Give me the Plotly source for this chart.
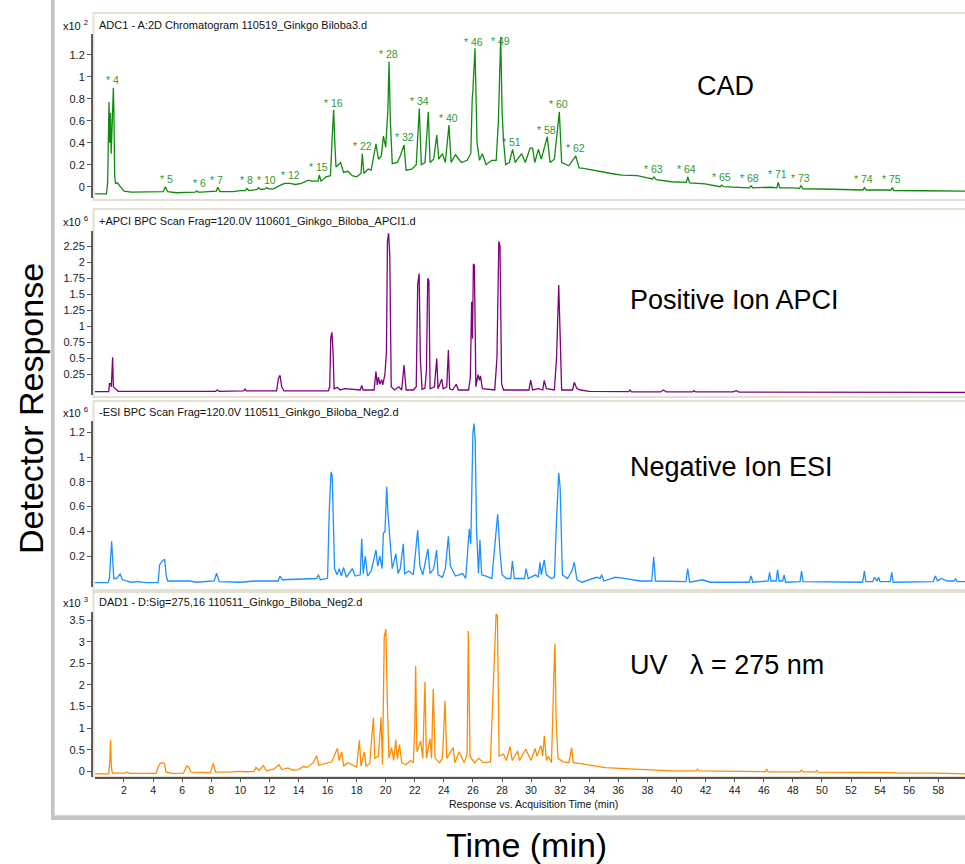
import plotly.graph_objects as go

# ---------------- DATA ----------------
# CAD trace  (response x10^2)
cad_t = [0.00, 0.80, 0.88, 0.92, 0.97, 1.02, 1.07, 1.12, 1.20, 1.27, 1.31, 1.36, 1.42, 1.55, 1.75, 2.0, 2.5, 3.5,
         4.3, 4.7, 4.85, 5.0, 5.6, 6.5, 6.9, 7.0, 7.1, 7.3, 8.2, 8.35, 8.45, 8.6, 9.5, 10.0, 10.35, 10.45, 10.6,
         11.15, 11.25, 11.4, 11.7, 11.8, 11.95, 12.3, 12.7, 13.05, 13.4, 13.8, 14.2, 14.68, 14.9, 15.35, 15.43,
         15.55, 15.9, 16.2, 16.32, 16.42, 16.5, 16.58, 16.75, 16.9, 17.1, 17.4, 17.7, 18.0, 18.3, 18.39, 18.5,
         18.8, 19.0, 19.33, 19.5, 19.7, 19.84, 20.0, 20.15, 20.23, 20.32, 20.45, 20.8, 21.0, 21.26, 21.4, 21.8,
         22.1, 22.31, 22.45, 22.7, 22.93, 23.05, 23.3, 23.51, 23.65, 23.9, 24.1, 24.35, 24.5, 24.8, 25.2, 25.6,
         25.85, 25.95, 26.0, 26.14, 26.28, 26.45, 26.65, 26.9, 27.3, 27.6, 27.75, 27.91, 28.0, 28.1, 28.25, 28.5,
         28.73, 28.9, 29.35, 29.6, 29.93, 30.1, 30.25, 30.5, 30.7, 31.11, 31.3, 31.6, 31.94, 32.1, 32.6, 33.07,
         33.3, 33.6, 34.2, 34.85, 35.5, 36.23, 37.3, 38.0, 38.35, 38.45, 38.6, 39.66, 40.5, 40.68, 40.77, 40.9,
         41.96, 42.6, 43.0, 43.1, 43.25, 44.25, 45.02, 45.12, 45.25, 46.5, 46.9, 46.99, 47.1, 48.0, 48.46, 48.56,
         48.7, 49.98, 52.0, 52.82, 52.92, 53.05, 54.5, 54.74, 54.84, 54.95, 57.0, 59.84]
cad_v = [-0.066, -0.066, 0.05, 0.35, 0.77, 0.40, 0.67, 0.30, 0.75, 0.90, 0.66, 0.10, 0.03, 0.035, 0.00, -0.04, -0.05,
         -0.05, -0.05, -0.045, 0.00, -0.045, -0.055, -0.05, -0.05, -0.038, -0.05, -0.05, -0.045, -0.04, -0.005,
         -0.045, -0.045, -0.035, -0.035, -0.017, -0.035, -0.025, -0.008, -0.025, -0.02, -0.008, -0.02, -0.02,
         0.01, 0.03, 0.03, 0.02, 0.03, 0.06, 0.05, 0.05, 0.106, 0.05, 0.09, 0.10, 0.45, 0.70, 0.40, 0.18, 0.20,
         0.22, 0.13, 0.14, 0.10, 0.09, 0.12, 0.30, 0.12, 0.16, 0.15, 0.39, 0.25, 0.28, 0.46, 0.36, 0.70, 1.136,
         0.60, 0.21, 0.22, 0.28, 0.38, 0.15, 0.16, 0.20, 0.71, 0.20, 0.22, 0.68, 0.22, 0.25, 0.47, 0.25, 0.30,
         0.22, 0.56, 0.22, 0.29, 0.22, 0.24, 0.30, 0.80, 0.88, 1.258, 0.40, 0.24, 0.30, 0.20, 0.24, 0.24, 0.60,
         1.36, 0.70, 0.42, 0.20, 0.22, 0.34, 0.22, 0.30, 0.22, 0.35, 0.35, 0.22, 0.34, 0.25, 0.455, 0.22, 0.25,
         0.68, 0.22, 0.19, 0.28, 0.17, 0.167, 0.15, 0.135, 0.12, 0.106, 0.10, 0.08, 0.07, 0.09, 0.065, 0.045,
         0.04, 0.04, 0.09, 0.035, 0.025, 0.01, 0.0, 0.015, 0.0, -0.006, -0.01, 0.009, -0.01, -0.005, -0.01,
         0.04, -0.01, -0.01, -0.015, 0.009, -0.02, -0.021, -0.025, -0.03, -0.009, -0.03, -0.03, -0.032, -0.009,
         -0.035, -0.037, -0.04]

# CAD peak labels (label centre positions)
cad_label_text = ["* 4", "* 5", "* 6", "* 7", "* 8", "* 10", "* 12", "* 15", "* 16", "* 22", "* 28", "* 32",
                  "* 34", "* 40", "* 46", "* 49", "* 51", "* 58", "* 60", "* 62", "* 63", "* 64", "* 65",
                  "* 68", "* 71", "* 73", "* 74", "* 75"]
cad_label_t = [1.22, 4.94, 7.16, 8.38, 10.44, 11.82, 13.47, 15.37, 16.40, 18.39, 20.18, 21.26, 22.29, 24.31,
               26.07, 27.86, 28.66, 31.07, 31.87, 33.02, 38.41, 40.70, 43.06, 45.05, 46.96, 48.56, 52.85, 54.80]
cad_label_v = [0.97, 0.073, 0.031, 0.061, 0.058, 0.064, 0.106, 0.176, 0.764, 0.373, 1.203, 0.452, 0.782, 0.627,
               1.318, 1.327, 0.403, 0.52, 0.749, 0.349, 0.158, 0.158, 0.091, 0.082, 0.115, 0.082, 0.067, 0.067]

# Positive ion APCI BPC (x10^6)
apci_t = [0.00, 0.95, 1.0, 1.08, 1.13, 1.18, 1.22, 1.27, 1.33, 1.45, 1.6, 8.3, 8.42, 8.55, 10.23, 10.33, 10.43,
          12.5, 12.62, 12.73, 12.85, 13.0, 16.05, 16.15, 16.22, 16.3, 16.38, 16.45, 16.7, 16.85, 17.2, 18.25,
          18.35, 18.45, 19.2, 19.33, 19.42, 19.5, 19.6, 19.72, 19.8, 19.95, 20.05, 20.12, 20.2, 20.28, 20.38,
          20.6, 20.9, 21.1, 21.26, 21.4, 21.9, 22.1, 22.2, 22.3, 22.38, 22.5, 22.7, 22.8, 22.89, 22.97, 23.05,
          23.35, 23.51, 23.6, 23.85, 23.95, 24.2, 24.31, 24.4, 24.6, 24.85, 25.0, 25.7, 25.82, 25.91, 25.97,
          26.03, 26.1, 26.2, 26.35, 26.45, 26.52, 26.65, 27.5, 27.65, 27.78, 27.86, 27.97, 28.1, 28.9, 29.3,
          29.85, 29.97, 30.1, 30.5, 30.8, 30.9, 31.05, 31.6, 31.75, 31.9, 31.98, 32.1, 32.7, 32.85, 32.97, 33.15,
          33.4, 34.0, 36.7, 36.8, 36.9, 38.9, 39.1, 39.3, 41.1, 41.2, 41.3, 43.9, 44.1, 44.3, 59.84]
apci_v = [-0.026, -0.026, 0.10, 0.10, 0.05, 0.40, 0.51, 0.05, 0.03, 0.01, -0.02, -0.02, 0.0, -0.02, -0.015, 0.015,
          -0.015, -0.015, 0.18, 0.23, 0.05, -0.015, -0.015, 0.05, 0.81, 0.90, 0.60, 0.02, 0.04, 0.00, 0.02, 0.0,
          0.07, 0.0, 0.0, 0.29, 0.08, 0.20, 0.09, 0.16, 0.08, 0.25, 0.6, 2.32, 2.45, 2.10, 0.05, 0.00, 0.05,
          0.00, 0.39, 0.00, 0.00, 0.05, 1.65, 1.82, 0.50, 0.01, 0.03, 0.30, 1.745, 1.70, 0.02, 0.05, 0.49, 0.02,
          0.17, 0.02, 0.05, 0.625, 0.02, 0.00, 0.09, 0.00, 0.00, 0.20, 1.38, 0.8, 1.97, 1.95, 0.05, 0.24, 0.15,
          0.22, 0.02, 0.00, 0.5, 2.32, 2.25, 0.10, 0.00, 0.00, 0.00, 0.0, 0.156, 0.00, 0.02, 0.0, 0.15, 0.02,
          0.00, 0.5, 1.64, 1.0, 0.00, 0.00, 0.0, 0.12, 0.02, 0.0, -0.02, -0.025, 0.0, -0.03, -0.03, 0.0, -0.03,
          -0.03, -0.01, -0.03, -0.03, -0.01, -0.033, -0.036]

# Negative ion ESI BPC (x10^6)
esi_t = [0.0, 0.9, 1.0, 1.08, 1.15, 1.22, 1.3, 1.5, 1.73, 1.9, 2.5, 3.0, 3.5, 4.35, 4.45, 4.62, 4.8, 4.9, 5.0, 5.4,
         6.5, 7.0, 8.2, 8.37, 8.55, 10.0, 11.0, 12.6, 12.73, 12.9, 14.0, 14.8, 15.25, 15.37, 15.5, 16.0, 16.12,
         16.24, 16.32, 16.38, 16.48, 16.65, 16.8, 16.95, 17.1, 17.3, 17.7, 17.9, 18.25, 18.35, 18.45, 18.6,
         18.75, 19.0, 19.33, 19.45, 19.6, 19.75, 19.84, 19.95, 20.07, 20.15, 20.3, 20.45, 20.7, 20.85, 21.0,
         21.21, 21.3, 21.6, 21.9, 22.13, 22.2, 22.35, 22.55, 22.9, 23.05, 23.3, 23.5, 23.6, 23.9, 24.1, 24.31,
         24.45, 24.8, 25.3, 25.5, 25.75, 25.85, 26.0, 26.07, 26.15, 26.25, 26.38, 26.48, 26.6, 26.9, 27.3, 27.6,
         27.7, 27.85, 28.0, 28.3, 28.6, 28.71, 28.85, 29.2, 29.55, 29.65, 29.8, 30.3, 30.5, 30.61, 30.7, 30.9,
         31.05, 31.4, 31.6, 31.75, 31.9, 32.0, 32.15, 32.5, 32.8, 32.97, 33.15, 33.5, 34.0, 34.5, 34.75, 34.85,
         35.0, 35.8, 36.5, 37.5, 38.3, 38.43, 38.55, 40.65, 40.77, 40.9, 41.8, 42.3, 45.0, 45.13, 45.25, 46.3,
         46.4, 46.5, 46.85, 46.95, 47.05, 47.3, 47.4, 47.5, 48.5, 48.6, 48.7, 52.8, 52.92, 53.02, 53.5, 53.6,
         53.8, 53.9, 54.0, 54.7, 54.8, 54.9, 57.65, 57.8, 57.95, 58.2, 58.6, 59.1, 59.2, 59.3, 59.84]
esi_v = [-0.013, -0.013, 0.02, 0.20, 0.32, 0.18, 0.02, 0.02, 0.056, 0.01, -0.01, -0.005, -0.013, -0.013, 0.13,
         0.16, 0.175, 0.05, 0.0, 0.0, 0.0, -0.01, 0.0, 0.062, -0.005, -0.01, 0.0, 0.0, 0.04, 0.01, 0.015, 0.02,
         0.02, 0.05, 0.01, 0.02, 0.57, 0.88, 0.85, 0.57, 0.10, 0.05, 0.10, 0.04, 0.11, 0.03, 0.10, 0.04, 0.05,
         0.34, 0.06, 0.20, 0.04, 0.08, 0.25, 0.12, 0.20, 0.10, 0.385, 0.40, 0.76, 0.55, 0.35, 0.10, 0.22, 0.06,
         0.10, 0.30, 0.06, 0.08, 0.05, 0.33, 0.41, 0.12, 0.05, 0.26, 0.06, 0.10, 0.25, 0.05, 0.03, 0.10, 0.36,
         0.12, 0.04, 0.06, 0.02, 0.42, 0.30, 1.20, 1.27, 1.15, 0.40, 0.06, 0.33, 0.05, 0.04, 0.02, 0.40, 0.54,
         0.25, 0.05, 0.02, 0.02, 0.16, 0.02, 0.02, 0.02, 0.10, 0.02, 0.05, 0.03, 0.15, 0.05, 0.17, 0.05, 0.02,
         0.03, 0.50, 0.87, 0.75, 0.05, 0.02, 0.08, 0.15, 0.01, -0.01, 0.01, 0.03, 0.02, 0.05, 0.0, 0.03, 0.02,
         0.0, 0.0, 0.196, 0.0, -0.005, 0.10, -0.01, 0.01, -0.01, -0.01, 0.04, -0.01, 0.0, 0.07, 0.0, 0.0, 0.09,
         0.0, 0.0, 0.05, -0.01, -0.005, 0.08, -0.005, -0.01, 0.08, -0.005, -0.005, 0.03, 0.0, 0.03, -0.005,
         -0.005, 0.07, -0.01, -0.005, 0.04, 0.0, 0.02, 0.0, 0.0, 0.02, -0.005, -0.005]

# UV 275 nm (x10^3)
uv_t = [0.0, 0.95, 1.02, 1.08, 1.13, 1.2, 2.1, 2.23, 2.4, 4.2, 4.35, 4.48, 4.65, 4.78, 4.9, 5.3, 6.1, 6.31, 6.45,
        6.6, 7.95, 8.14, 8.3, 9.2, 10.0, 10.4, 10.95, 11.08, 11.3, 11.58, 11.8, 12.3, 12.66, 12.85, 13.26, 13.6,
        14.0, 14.34, 14.6, 15.02, 15.25, 15.4, 15.8, 16.3, 16.67, 16.8, 16.97, 17.1, 17.4, 17.7, 18.0, 18.19,
        18.3, 18.53, 18.65, 18.9, 19.15, 19.25, 19.5, 19.68, 19.78, 19.9, 20.01, 20.12, 20.22, 20.4, 20.55,
        20.69, 20.8, 20.95, 21.1, 21.4, 21.7, 21.9, 22.0, 22.06, 22.15, 22.4, 22.55, 22.7, 22.8, 23.05, 23.15,
        23.27, 23.4, 23.7, 23.9, 24.08, 24.2, 24.65, 24.75, 25.05, 25.2, 25.4, 25.6, 25.68, 25.8, 26.1, 26.4,
        26.7, 27.2, 27.45, 27.59, 27.68, 27.8, 28.1, 28.3, 28.55, 28.7, 29.07, 29.2, 29.63, 29.8, 30.0, 30.27,
        30.4, 30.68, 30.8, 30.91, 31.05, 31.2, 31.4, 31.58, 31.64, 31.72, 31.85, 32.2, 32.6, 32.79, 32.9, 33.4,
        34.0, 35.09, 36.8, 37.84, 39.67, 41.35, 41.44, 41.55, 43.0, 45.28, 46.1, 46.2, 46.3, 48.5, 48.6, 48.7,
        49.55, 49.65, 49.75, 55.0, 55.2, 57.8, 59.84]
uv_v = [-0.06, -0.06, 0.2, 0.73, 0.1, -0.04, -0.04, -0.02, -0.05, -0.05, 0.10, 0.18, 0.20, 0.18, -0.02, -0.05,
        -0.04, 0.12, 0.10, -0.02, -0.03, 0.18, -0.02, -0.02, 0.0, -0.01, 0.0, 0.09, 0.02, 0.13, 0.01, 0.05, 0.15,
        0.04, 0.08, 0.03, 0.04, 0.11, 0.09, 0.20, 0.36, 0.14, 0.18, 0.22, 0.53, 0.25, 0.45, 0.12, 0.20, 0.15,
        0.10, 0.72, 0.12, 0.45, 0.12, 0.18, 1.24, 0.30, 0.35, 1.25, 0.15, 3.12, 3.29, 1.5, 0.30, 0.55, 0.25,
        0.73, 0.28, 0.62, 0.20, 0.15, 0.25, 0.20, 1.03, 2.44, 0.45, 0.70, 0.30, 2.07, 0.30, 0.75, 0.30, 1.91,
        0.30, 0.20, 0.30, 1.63, 0.30, 0.55, 0.20, 0.45, 0.35, 0.20, 0.40, 3.25, 0.35, 0.20, 0.30, 0.20, 0.22,
        2.40, 3.64, 3.6, 0.35, 0.40, 0.25, 0.57, 0.25, 0.47, 0.25, 0.51, 0.40, 0.25, 0.53, 0.35, 0.60, 0.35,
        0.82, 0.25, 0.35, 0.20, 2.40, 2.96, 1.2, 0.30, 0.22, 0.20, 0.55, 0.20, 0.18, 0.145, 0.085, 0.057, 0.034,
        0.01, 0.01, 0.05, 0.01, 0.0, -0.01, -0.01, 0.05, -0.01, -0.015, 0.03, -0.015, -0.015, 0.02, -0.02,
        -0.03, -0.04, -0.04, -0.06]

# Axis ticks
x_tick_vals = list(range(2, 60, 2))
cad_ticks = [0, 0.2, 0.4, 0.6, 0.8, 1, 1.2]
apci_ticks = [0.25, 0.5, 0.75, 1, 1.25, 1.5, 1.75, 2, 2.25]
esi_ticks = [0.2, 0.4, 0.6, 0.8, 1, 1.2]
uv_ticks = [0, 0.5, 1, 1.5, 2, 2.5, 3, 3.5]

panel_titles = ["ADC1 - A:2D Chromatogram 110519_Ginkgo Biloba3.d",
                "+APCI BPC Scan Frag=120.0V 110601_Ginkgo_Biloba_APCI1.d",
                "-ESI BPC Scan Frag=120.0V 110511_Ginkgo_Biloba_Neg2.d",
                "DAD1 - D:Sig=275,16 110511_Ginkgo_Biloba_Neg2.d"]
panel_exponents = ["2", "6", "6", "3"]
panel_names = ["CAD", "Positive Ion APCI", "Negative Ion ESI", "UV\u00a0\u00a0\u00a0\u03bb = 275 nm"]

# ---------------- LAYOUT helpers ----------------
W, H = 965, 864
def px(x):
    return x / W
def py(y):
    return 1 - y / H

FONT = "Liberation Sans, Arial, Helvetica, sans-serif"
X_RANGE = [0, 59.84]
x_left = 94.9

# panel: (top_px, bottom_px, zero_px, px_per_unit)
panels = [
    (34, 198, 186.7, 110.0),
    (231, 395, 390.0, 64.0),
    (421, 587, 581.0, 124.0),
    (612, 777, 771.3, 43.2),
]
frames = [(13, 200), (209, 397), (401, 590), (592, 777)]
title_y = [24.5, 221, 411.7, 601.7]
name_pos = [(725, 86), (734, 300), (731, 467), (727, 665)]
colors = ["#118a11", "#800080", "#1e8fff", "#ff8c00"]
ticks_list = [cad_ticks, apci_ticks, esi_ticks, uv_ticks]
series = [(cad_t, cad_v), (apci_t, apci_v), (esi_t, esi_v), (uv_t, uv_v)]

fig = go.Figure()
layout = dict(
    width=W, height=H, margin=dict(l=0, r=0, t=0, b=0),
    paper_bgcolor="white", plot_bgcolor="rgba(0,0,0,0)",
    showlegend=False, font=dict(family=FONT, color="#222"),
)
shapes = []
annotations = []

# outer frame with shadow
shapes.append(dict(type="rect", xref="paper", yref="paper", x0=px(51), x1=px(970), y0=py(820), y1=py(-5),
                   fillcolor="#c4c4c4", line=dict(width=0), layer="below"))
shapes.append(dict(type="rect", xref="paper", yref="paper", x0=px(54.5), x1=px(970), y0=py(815.5), y1=py(-5),
                   fillcolor="white", line=dict(color="#d8d8d8", width=1), layer="below"))

def fmt(v):
    return "%g" % v

for i, ((top, bot, zero, ppu), (t, v)) in enumerate(zip(panels, series)):
    n = "" if i == 0 else str(i + 1)
    ymin = (zero - bot) / ppu
    ymax = (zero - top) / ppu
    xa = dict(domain=[px(x_left), 1], range=X_RANGE, anchor="y" + n, showgrid=False, zeroline=False,
              fixedrange=True)
    if i < 3:
        xa.update(visible=False, matches="x4")
    else:
        xa.update(showline=True, linecolor="#555", linewidth=1.5, ticks="outside", ticklen=3, tickwidth=1,
                  tickcolor="#555", tickvals=x_tick_vals, ticktext=[str(k) for k in x_tick_vals],
                  tickfont=dict(size=10.5, family=FONT, color="#222"), mirror=False)
    ya = dict(domain=[py(bot), py(top)], range=[ymin, ymax], anchor="free", position=px(92),
              showgrid=False, zeroline=False, showline=True, linecolor="#5e5e5e", linewidth=2,
              ticks="outside", ticklen=4, tickwidth=1, tickcolor="#555",
              tickvals=ticks_list[i], ticktext=[fmt(k) for k in ticks_list[i]],
              tickfont=dict(size=11, family=FONT, color="#222"), fixedrange=True)
    layout["xaxis" + n] = xa
    layout["yaxis" + n] = ya
    fig.add_trace(go.Scatter(x=t, y=v, mode="lines", line=dict(color=colors[i], width=1.3),
                             xaxis="x" + n, yaxis="y" + n, hoverinfo="skip"))
    f0, f1 = frames[i]
    shapes.append(dict(type="rect", xref="paper", yref="paper", x0=px(93.5), x1=px(968), y0=py(f1), y1=py(f0),
                       fillcolor="rgba(0,0,0,0)", line=dict(color="#e4e0d2", width=2), layer="below"))
    annotations.append(dict(xref="paper", yref="paper", x=px(97), y=py(title_y[i]), xanchor="left",
                            yanchor="middle", text=panel_titles[i], showarrow=False,
                            font=dict(size=11, family=FONT, color="#111")))
    annotations.append(dict(xref="paper", yref="paper", x=px(61), y=py(title_y[i]), xanchor="left",
                            yanchor="middle", text="x10 <sup>" + panel_exponents[i] + "</sup>", showarrow=False,
                            font=dict(size=11, family=FONT, color="#111")))
    nx, ny = name_pos[i]
    annotations.append(dict(xref="paper", yref="paper", x=px(nx), y=py(ny), xanchor="center", yanchor="middle",
                            text=panel_names[i], showarrow=False, font=dict(size=27, family=FONT, color="#000")))

# CAD peak labels
for txt, lt, lv in zip(cad_label_text, cad_label_t, cad_label_v):
    annotations.append(dict(xref="x", yref="y", x=lt, y=lv, xanchor="center", yanchor="middle", text=txt,
                            showarrow=False, font=dict(size=10.5, family=FONT, color="#2f9a2f")))

# axis captions
annotations.append(dict(xref="paper", yref="paper", x=px(533), y=py(804), xanchor="center", yanchor="middle",
                        text="Response vs. Acquisition Time (min)", showarrow=False,
                        font=dict(size=10.5, family=FONT, color="#111")))
annotations.append(dict(xref="paper", yref="paper", x=px(526), y=py(845), xanchor="center", yanchor="middle",
                        text="Time (min)", showarrow=False, font=dict(size=34, family=FONT, color="#000")))
annotations.append(dict(xref="paper", yref="paper", x=px(31), y=py(409), xanchor="center", yanchor="middle",
                        text="Detector Response", textangle=-90, showarrow=False,
                        font=dict(size=34, family=FONT, color="#000")))

layout["shapes"] = shapes
layout["annotations"] = annotations
fig.update_layout(**layout)
fig.write_html("out.html")
